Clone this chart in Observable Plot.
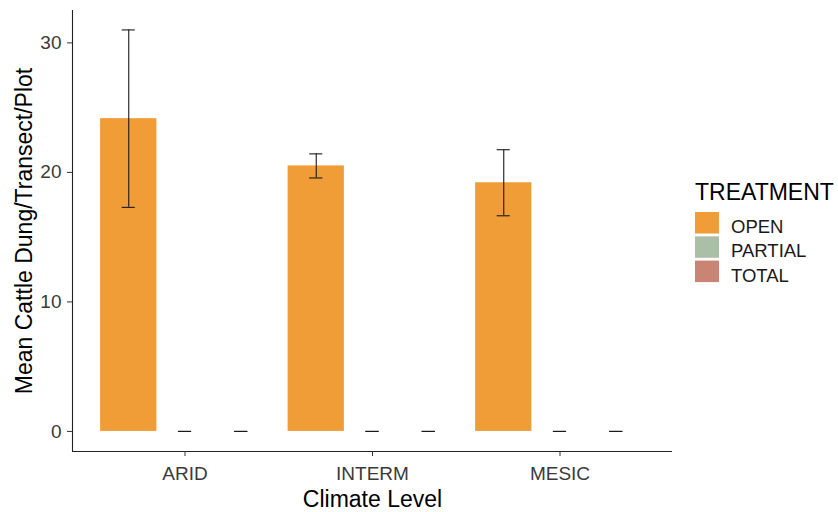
<!DOCTYPE html>
<html>
<head>
<meta charset="utf-8">
<script src="https://cdn.jsdelivr.net/npm/d3@7"></script>
<script src="https://cdn.jsdelivr.net/npm/@observablehq/plot@0.6"></script>
<style>
  html, body { margin: 0; padding: 0; background: #fff; }
  #wrap { position: relative; width: 838px; height: 512px; font-family: "Liberation Sans", Arial, sans-serif; }
  #legend { position: absolute; left: 0; top: 0; pointer-events: none; }
</style>
</head>
<body>
<div id="wrap"></div>
<script>
// ---- data ----
const climates = ["ARID", "INTERM", "MESIC"];
const treatments = ["OPEN", "PARTIAL", "TOTAL"];
const treatmentColors = ["#F09C37", "#ABBFA6", "#C98474"];
const openMean = [24.15, 20.5, 19.2];
const openSE = [6.85, 0.93, 2.55];
const partialMean = [0, 0, 0];
const partialSE = [0, 0, 0];
const totalMean = [0, 0, 0];
const totalSE = [0, 0, 0];
const yTicks = [0, 10, 20, 30];
const xTitle = "Climate Level";
const yTitle = "Mean Cattle Dung/Transect/Plot";
const legendTitle = "TREATMENT";

// ---- build table ----
const means = {OPEN: openMean, PARTIAL: partialMean, TOTAL: totalMean};
const ses = {OPEN: openSE, PARTIAL: partialSE, TOTAL: totalSE};
const dodge = 0.3, half = 0.15, whisk = 0.035;
const rows = climates.flatMap((c, i) => treatments.map((t, j) => {
  const pos = i + 1 + (j - 1) * dodge;
  return {climate: c, treatment: t, pos, x1: pos - half, x2: pos + half,
          w1: pos - whisk, w2: pos + whisk,
          mean: means[t][i], lo: means[t][i] - ses[t][i], hi: means[t][i] + ses[t][i]};
}));

const xDomain = [0.4, climates.length + 0.6];
const yDomain = [-1.55, 32.5];
const font = '"Liberation Sans", Arial, sans-serif';

const plot = Plot.plot({
  width: 838,
  height: 512,
  marginLeft: 72,
  marginRight: 166,
  marginTop: 10,
  marginBottom: 61,
  style: {fontFamily: font, background: "#fff"},
  x: {domain: xDomain, axis: null},
  y: {domain: yDomain, axis: null},
  color: {domain: treatments, range: treatmentColors},
  marks: [
    Plot.rectY(rows, {x1: "x1", x2: "x2", y1: 0, y2: "mean", fill: "treatment"}),
    Plot.ruleX(rows, {x: "pos", y1: "lo", y2: "hi", stroke: "#1a1a1a", strokeWidth: 1.1}),
    Plot.ruleY(rows, {x1: "w1", x2: "w2", y: "hi", stroke: "#1a1a1a", strokeWidth: 1.1}),
    Plot.ruleY(rows, {x1: "w1", x2: "w2", y: "lo", stroke: "#1a1a1a", strokeWidth: 1.1}),
    // axis lines
    Plot.ruleX([xDomain[0]], {stroke: "#222", strokeWidth: 1.1}),
    Plot.ruleY([yDomain[0]], {stroke: "#222", strokeWidth: 1.1}),
    Plot.axisX({ticks: climates.map((c, i) => i + 1), tickFormat: d => climates[d - 1],
                tickSize: 5, tickPadding: 10, fontSize: 19, color: "#3a3a3a", stroke: "#333", label: null}),
    Plot.axisY({ticks: yTicks, tickSize: 5, tickPadding: 6, fontSize: 19, color: "#3a3a3a", stroke: "#333", label: null}),
    Plot.text([xTitle], {frameAnchor: "bottom", textAnchor: "middle", lineAnchor: "middle", dy: 48, fontSize: 23, fill: "#000"}),
    Plot.text([yTitle], {frameAnchor: "left", textAnchor: "middle", lineAnchor: "middle", rotate: -90, dx: -48, fontSize: 23, fill: "#000"})
  ]
});

const wrap = document.getElementById("wrap");
wrap.appendChild(plot);

// ---- legend ----
const color = plot.scale("color");
const svg = d3.select(wrap).append("svg")
  .attr("id", "legend").attr("width", 838).attr("height", 512)
  .style("font-family", font);
svg.append("text").attr("x", 695).attr("y", 200).attr("font-size", 23).attr("fill", "#000").text(legendTitle);
color.domain.forEach((t, i) => {
  svg.append("rect").attr("x", 695).attr("y", 212 + i * 24.3).attr("width", 24).attr("height", 21.5)
    .attr("fill", color.range[i]);
  svg.append("text").attr("x", 731).attr("y", 233 + i * 24.3).attr("font-size", 18.5).attr("fill", "#1a1a1a").text(t);
});
</script>
</body>
</html>
